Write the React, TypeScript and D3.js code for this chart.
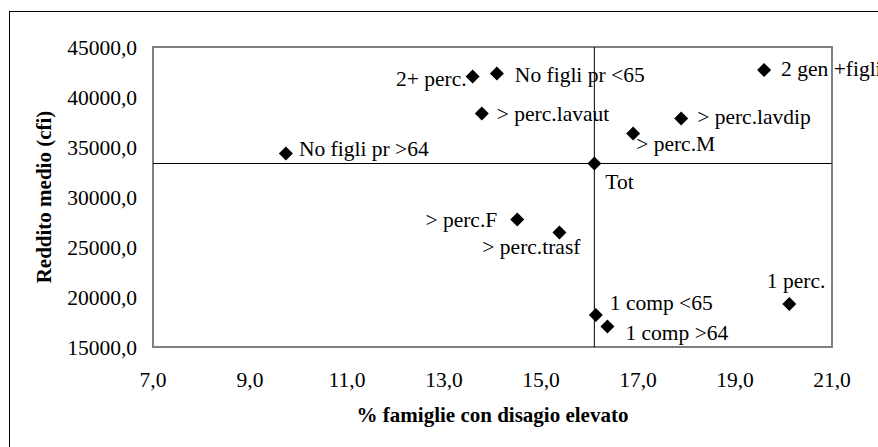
import React, { useRef, useEffect } from "react";
import * as d3 from "d3";

const labels = [
  "Tot",
  "No figli pr >64",
  "2+ perc.",
  "No figli pr <65",
  "> perc.lavaut",
  "2 gen +figli",
  "> perc.lavdip",
  "> perc.M",
  "> perc.F",
  "> perc.trasf",
  "1 comp <65",
  "1 comp >64",
  "1 perc.",
];
const disagio = [16.1, 9.74, 13.59, 14.09, 13.78, 19.6, 17.89, 16.9, 14.51, 15.38, 16.13, 16.37, 20.12];
const reddito = [33350, 34350, 42050, 42350, 38350, 42700, 37850, 36350, 27750, 26450, 18200, 17050, 19300];
const xTicks = [7, 9, 11, 13, 15, 17, 19, 21];
const yTicks = [15000, 20000, 25000, 30000, 35000, 40000, 45000];

// label placement relative to the marker (dx, dy, anchor)
const labelPos: [number, number, string][] = [
  [11, 25, "start"],
  [13, 2, "start"],
  [-6, 9, "end"],
  [18, 8, "start"],
  [15, 7, "start"],
  [17, 6, "start"],
  [16, 5, "start"],
  [3, 17, "start"],
  [-20, 7, "end"],
  [21, 21, "end"],
  [14, -5, "start"],
  [18, 13, "start"],
  [36, -16, "end"],
];

const width = 878;
const height = 447;
const font = "Liberation Serif, Times New Roman, DejaVu Serif, serif";

const itFmt = (d: number) => d3.format(".1f")(d).replace(".", ",");

const App = () => {
  const svgRef = useRef<SVGSVGElement>(null);

  useEffect(() => {
    const svg = d3.select(svgRef.current);
    svg.selectAll("*").remove();

    const left = 153, right = 832, top = 47, bottom = 347;

    const x = d3.scaleLinear().domain([7, 21]).range([left, right]);
    const y = d3.scaleLinear().domain([15000, 45000]).range([bottom, top]);

    svg.append("rect")
      .attr("width", width).attr("height", height).attr("fill", "#fff");

    // outer chart border
    svg.append("rect")
      .attr("x", 9.5).attr("y", 11.5)
      .attr("width", width + 20).attr("height", height + 20)
      .attr("fill", "none").attr("stroke", "#000").attr("stroke-width", 1);

    // plot area
    svg.append("rect")
      .attr("x", left).attr("y", top)
      .attr("width", right - left).attr("height", bottom - top)
      .attr("fill", "none").attr("stroke", "#808080").attr("stroke-width", 2);

    // reference lines through Tot
    svg.append("line")
      .attr("x1", x(disagio[0])).attr("x2", x(disagio[0]))
      .attr("y1", top).attr("y2", bottom)
      .attr("stroke", "#000").attr("stroke-width", 1);
    svg.append("line")
      .attr("x1", left).attr("x2", right)
      .attr("y1", y(reddito[0])).attr("y2", y(reddito[0]))
      .attr("stroke", "#000").attr("stroke-width", 1);

    // tick labels
    svg.append("g").selectAll("text").data(yTicks).join("text")
      .attr("x", 137).attr("y", (d) => y(d)).attr("dy", "0.35em")
      .attr("text-anchor", "end")
      .attr("font-family", font).attr("font-size", 21.5)
      .text(itFmt);

    svg.append("g").selectAll("text").data(xTicks).join("text")
      .attr("x", (d) => x(d)).attr("y", 387)
      .attr("text-anchor", "middle")
      .attr("font-family", font).attr("font-size", 21.5)
      .text(itFmt);

    // axis titles
    svg.append("text")
      .attr("x", (left + right) / 2).attr("y", 422)
      .attr("text-anchor", "middle")
      .attr("font-family", font).attr("font-size", 21).attr("font-weight", "bold")
      .text("% famiglie con disagio elevato");

    svg.append("text")
      .attr("transform", `translate(51,${(top + bottom) / 2}) rotate(-90)`)
      .attr("text-anchor", "middle")
      .attr("font-family", font).attr("font-size", 21).attr("font-weight", "bold")
      .text("Reddito medio (cfi)");

    // markers
    const diamond = d3.symbol().type(d3.symbolSquare).size(98);
    svg.append("g").selectAll("path").data(labels).join("path")
      .attr("transform", (_, i) => `translate(${x(disagio[i])},${y(reddito[i])}) rotate(45)`)
      .attr("d", diamond())
      .attr("fill", "#000");

    // point labels
    svg.append("g").selectAll("text").data(labels).join("text")
      .attr("x", (_, i) => x(disagio[i]) + labelPos[i][0])
      .attr("y", (_, i) => y(reddito[i]) + labelPos[i][1])
      .attr("text-anchor", (_, i) => labelPos[i][2])
      .attr("font-family", font).attr("font-size", 21.5)
      .text((d) => d);
  }, []);

  return (
    <svg
      ref={svgRef}
      width={width}
      height={height}
      style={{ position: "absolute", left: 0, top: 0 }}
    />
  );
};

export default App;
